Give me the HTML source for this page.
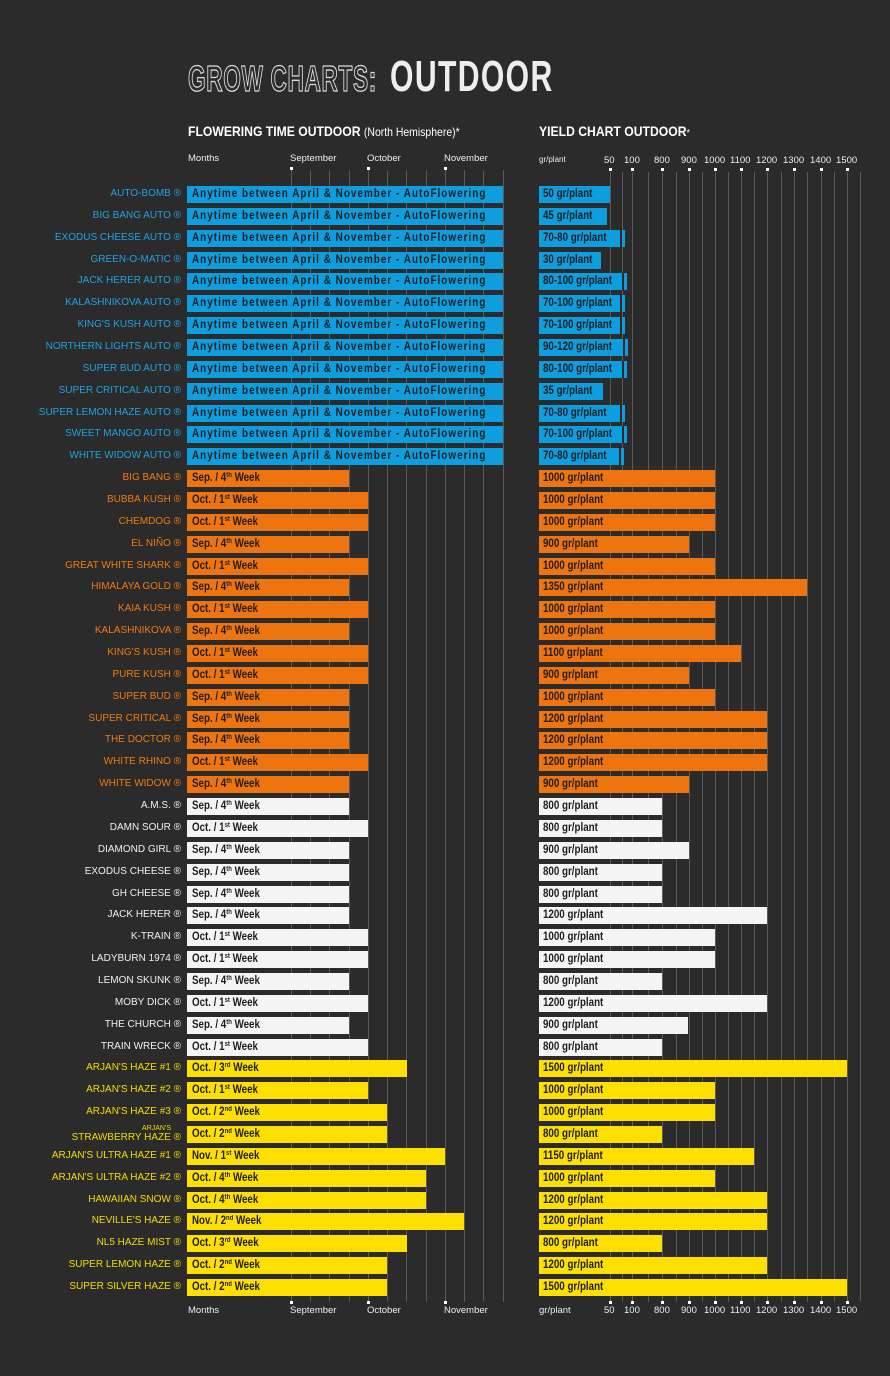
<!DOCTYPE html>
<html><head><meta charset="utf-8">
<style>
*{margin:0;padding:0;box-sizing:border-box}
body{width:890px;height:1376px;background:#2b2b2b;position:relative;overflow:hidden;font-family:"Liberation Sans",sans-serif}
.a{position:absolute}
.vl{position:absolute;width:1px;background:#5a5a5a}
.dot{position:absolute;width:3px;height:3px;background:#fff}
.ax{position:absolute;color:#eee;font-size:9.5px;white-space:nowrap}
#rows{position:absolute;left:0;top:185px;width:890px}
.r{position:relative;height:21.86px}
.r .l{position:absolute;right:709px;top:3px;font-size:10px;white-space:nowrap;text-align:right}
.r .f,.r .y{position:absolute;top:1px;height:17px;font-weight:bold;font-size:11.5px;color:#1e1e1e;padding-left:5px;line-height:17px;white-space:nowrap;overflow:hidden}
.r .f{left:187px}
.r .y{left:539px;padding-left:4px}
.r .f span,.r .y span{display:inline-block;transform:scaleX(0.85);transform-origin:left}
sup{font-size:7px;line-height:0;vertical-align:4px}
.b .l{color:#1fa3e0}.b .f,.b .y{background:#0d9ee0}
.o .l{color:#f07a10}.o .f,.o .y{background:#ee7410}
.w .l{color:#f0f0f0}.w .f,.w .y{background:#f4f4f4}
.k .l{color:#f5dc00}.k .f,.k .y{background:#fde000}
.x{border-right:2px solid #2b2b2b;box-shadow:3px 0 0 #0d9ee0}
.b .f span{letter-spacing:1.2px;transform:scaleX(0.86)}
</style></head><body>

<div class="a" style="left:188px;top:58px;font-size:36px;font-weight:bold;color:#2b2b2b;-webkit-text-stroke:1.3px #ddd;transform:scaleX(0.63);transform-origin:left;white-space:nowrap;letter-spacing:1px">GROW CHARTS:</div>
<div class="a" style="left:390px;top:52px;font-size:44px;font-weight:bold;color:#eee;transform:scaleX(0.685);transform-origin:left;white-space:nowrap;letter-spacing:2px">OUTDOOR</div>

<div class="a" style="left:188px;top:123px;font-size:14px;font-weight:bold;color:#fff;transform:scaleX(0.87);transform-origin:left;white-space:nowrap">FLOWERING TIME OUTDOOR <span style="font-weight:normal;font-size:12px">(North Hemisphere)*</span></div>
<div class="a" style="left:539px;top:123px;font-size:14px;font-weight:bold;color:#fff;transform:scaleX(0.87);transform-origin:left;white-space:nowrap">YIELD CHART OUTDOOR<span style="font-weight:normal;font-size:10px">*</span></div>

<!-- left grid -->
<div class="vl" style="left:291px;top:170px;height:1132px"></div>
<div class="vl" style="left:310px;top:170px;height:1132px"></div>
<div class="vl" style="left:329px;top:170px;height:1132px"></div>
<div class="vl" style="left:349px;top:170px;height:1132px"></div>
<div class="vl" style="left:368px;top:170px;height:1132px"></div>
<div class="vl" style="left:387px;top:170px;height:1132px"></div>
<div class="vl" style="left:406px;top:170px;height:1132px"></div>
<div class="vl" style="left:426px;top:170px;height:1132px"></div>
<div class="vl" style="left:445px;top:170px;height:1132px"></div>
<div class="vl" style="left:464px;top:170px;height:1132px"></div>
<div class="vl" style="left:483px;top:170px;height:1132px"></div>
<div class="vl" style="left:503px;top:170px;height:1132px"></div>
<div class="dot" style="left:290px;top:167px"></div><div class="dot" style="left:367px;top:167px"></div><div class="dot" style="left:444px;top:167px"></div>
<div class="dot" style="left:290px;top:1301px"></div><div class="dot" style="left:367px;top:1301px"></div><div class="dot" style="left:444px;top:1301px"></div>
<div class="ax" style="left:188px;top:153px">Months</div>
<div class="ax" style="left:290px;top:153px">September</div>
<div class="ax" style="left:367px;top:153px">October</div>
<div class="ax" style="left:444px;top:153px">November</div>
<div class="ax" style="left:188px;top:1305px">Months</div>
<div class="ax" style="left:290px;top:1305px">September</div>
<div class="ax" style="left:367px;top:1305px">October</div>
<div class="ax" style="left:444px;top:1305px">November</div>

<!-- right grid -->
<div class="vl" style="left:610px;top:172px;height:1130px"></div>
<div class="vl" style="left:622px;top:172px;height:1130px"></div>
<div class="vl" style="left:632px;top:172px;height:1130px"></div>
<div class="vl" style="left:648px;top:172px;height:1130px"></div>
<div class="vl" style="left:662px;top:172px;height:1130px"></div>
<div class="vl" style="left:676px;top:172px;height:1130px"></div>
<div class="vl" style="left:689px;top:172px;height:1130px"></div>
<div class="vl" style="left:702px;top:172px;height:1130px"></div>
<div class="vl" style="left:715px;top:172px;height:1130px"></div>
<div class="vl" style="left:728px;top:172px;height:1130px"></div>
<div class="vl" style="left:741px;top:172px;height:1130px"></div>
<div class="vl" style="left:754px;top:172px;height:1130px"></div>
<div class="vl" style="left:767px;top:172px;height:1130px"></div>
<div class="vl" style="left:781px;top:172px;height:1130px"></div>
<div class="vl" style="left:794px;top:172px;height:1130px"></div>
<div class="vl" style="left:807px;top:172px;height:1130px"></div>
<div class="vl" style="left:821px;top:172px;height:1130px"></div>
<div class="vl" style="left:834px;top:172px;height:1130px"></div>
<div class="vl" style="left:847px;top:172px;height:1130px"></div>
<div class="vl" style="left:860px;top:172px;height:1130px"></div>
<div class="dot" style="left:609px;top:168px"></div><div class="dot" style="left:631px;top:168px"></div><div class="dot" style="left:661px;top:168px"></div><div class="dot" style="left:688px;top:168px"></div><div class="dot" style="left:714px;top:168px"></div><div class="dot" style="left:740px;top:168px"></div><div class="dot" style="left:766px;top:168px"></div><div class="dot" style="left:793px;top:168px"></div><div class="dot" style="left:820px;top:168px"></div><div class="dot" style="left:846px;top:168px"></div>
<div class="dot" style="left:609px;top:1301px"></div><div class="dot" style="left:631px;top:1301px"></div><div class="dot" style="left:661px;top:1301px"></div><div class="dot" style="left:688px;top:1301px"></div><div class="dot" style="left:714px;top:1301px"></div><div class="dot" style="left:740px;top:1301px"></div><div class="dot" style="left:766px;top:1301px"></div><div class="dot" style="left:793px;top:1301px"></div><div class="dot" style="left:820px;top:1301px"></div><div class="dot" style="left:846px;top:1301px"></div>
<div class="ax" style="left:539px;top:155px;font-size:8px">gr/plant</div>
<div class="ax" style="left:604px;top:155px">50</div><div class="ax" style="left:624px;top:155px">100</div><div class="ax" style="left:654px;top:155px">800</div><div class="ax" style="left:681px;top:155px">900</div><div class="ax" style="left:704px;top:155px">1000</div><div class="ax" style="left:730px;top:155px">1100</div><div class="ax" style="left:756px;top:155px">1200</div><div class="ax" style="left:783px;top:155px">1300</div><div class="ax" style="left:810px;top:155px">1400</div><div class="ax" style="left:836px;top:155px">1500</div>
<div class="ax" style="left:539px;top:1305px">gr/plant</div>
<div class="ax" style="left:604px;top:1305px">50</div><div class="ax" style="left:624px;top:1305px">100</div><div class="ax" style="left:654px;top:1305px">800</div><div class="ax" style="left:681px;top:1305px">900</div><div class="ax" style="left:704px;top:1305px">1000</div><div class="ax" style="left:730px;top:1305px">1100</div><div class="ax" style="left:756px;top:1305px">1200</div><div class="ax" style="left:783px;top:1305px">1300</div><div class="ax" style="left:810px;top:1305px">1400</div><div class="ax" style="left:836px;top:1305px">1500</div>

<div id="rows">
<div class="r b"><div class="l">AUTO-BOMB ®</div><div class="f" style="width:316px"><span>Anytime between April &amp; November - AutoFlowering</span></div><div class="y" style="width:71px"><span>50 gr/plant</span></div></div>
<div class="r b"><div class="l">BIG BANG AUTO ®</div><div class="f" style="width:316px"><span>Anytime between April &amp; November - AutoFlowering</span></div><div class="y" style="width:68px"><span>45 gr/plant</span></div></div>
<div class="r b"><div class="l">EXODUS CHEESE AUTO ®</div><div class="f" style="width:316px"><span>Anytime between April &amp; November - AutoFlowering</span></div><div class="y x" style="width:83px"><span>70-80 gr/plant</span></div></div>
<div class="r b"><div class="l">GREEN-O-MATIC ®</div><div class="f" style="width:316px"><span>Anytime between April &amp; November - AutoFlowering</span></div><div class="y" style="width:62px"><span>30 gr/plant</span></div></div>
<div class="r b"><div class="l">JACK HERER AUTO ®</div><div class="f" style="width:316px"><span>Anytime between April &amp; November - AutoFlowering</span></div><div class="y x" style="width:85px"><span>80-100 gr/plant</span></div></div>
<div class="r b"><div class="l">KALASHNIKOVA AUTO ®</div><div class="f" style="width:316px"><span>Anytime between April &amp; November - AutoFlowering</span></div><div class="y x" style="width:83px"><span>70-100 gr/plant</span></div></div>
<div class="r b"><div class="l">KING'S KUSH AUTO ®</div><div class="f" style="width:316px"><span>Anytime between April &amp; November - AutoFlowering</span></div><div class="y x" style="width:83px"><span>70-100 gr/plant</span></div></div>
<div class="r b"><div class="l">NORTHERN LIGHTS AUTO ®</div><div class="f" style="width:316px"><span>Anytime between April &amp; November - AutoFlowering</span></div><div class="y x" style="width:86px"><span>90-120 gr/plant</span></div></div>
<div class="r b"><div class="l">SUPER BUD AUTO ®</div><div class="f" style="width:316px"><span>Anytime between April &amp; November - AutoFlowering</span></div><div class="y x" style="width:85px"><span>80-100 gr/plant</span></div></div>
<div class="r b"><div class="l">SUPER CRITICAL AUTO ®</div><div class="f" style="width:316px"><span>Anytime between April &amp; November - AutoFlowering</span></div><div class="y" style="width:64px"><span>35 gr/plant</span></div></div>
<div class="r b"><div class="l">SUPER LEMON HAZE AUTO ®</div><div class="f" style="width:316px"><span>Anytime between April &amp; November - AutoFlowering</span></div><div class="y x" style="width:83px"><span>70-80 gr/plant</span></div></div>
<div class="r b"><div class="l">SWEET MANGO AUTO ®</div><div class="f" style="width:316px"><span>Anytime between April &amp; November - AutoFlowering</span></div><div class="y x" style="width:85px"><span>70-100 gr/plant</span></div></div>
<div class="r b"><div class="l">WHITE WIDOW AUTO ®</div><div class="f" style="width:316px"><span>Anytime between April &amp; November - AutoFlowering</span></div><div class="y x" style="width:82px"><span>70-80 gr/plant</span></div></div>

<div class="r o"><div class="l">BIG BANG ®</div><div class="f" style="width:162px"><span>Sep. / 4<sup>th</sup> Week</span></div><div class="y" style="width:176px"><span>1000 gr/plant</span></div></div>
<div class="r o"><div class="l">BUBBA KUSH ®</div><div class="f" style="width:181px"><span>Oct. / 1<sup>st</sup> Week</span></div><div class="y" style="width:176px"><span>1000 gr/plant</span></div></div>
<div class="r o"><div class="l">CHEMDOG ®</div><div class="f" style="width:181px"><span>Oct. / 1<sup>st</sup> Week</span></div><div class="y" style="width:176px"><span>1000 gr/plant</span></div></div>
<div class="r o"><div class="l">EL NIÑO ®</div><div class="f" style="width:162px"><span>Sep. / 4<sup>th</sup> Week</span></div><div class="y" style="width:150px"><span>900 gr/plant</span></div></div>
<div class="r o"><div class="l">GREAT WHITE SHARK ®</div><div class="f" style="width:181px"><span>Oct. / 1<sup>st</sup> Week</span></div><div class="y" style="width:176px"><span>1000 gr/plant</span></div></div>
<div class="r o"><div class="l">HIMALAYA GOLD ®</div><div class="f" style="width:162px"><span>Sep. / 4<sup>th</sup> Week</span></div><div class="y" style="width:268px"><span>1350 gr/plant</span></div></div>
<div class="r o"><div class="l">KAIA KUSH ®</div><div class="f" style="width:181px"><span>Oct. / 1<sup>st</sup> Week</span></div><div class="y" style="width:176px"><span>1000 gr/plant</span></div></div>
<div class="r o"><div class="l">KALASHNIKOVA ®</div><div class="f" style="width:162px"><span>Sep. / 4<sup>th</sup> Week</span></div><div class="y" style="width:176px"><span>1000 gr/plant</span></div></div>
<div class="r o"><div class="l">KING'S KUSH ®</div><div class="f" style="width:181px"><span>Oct. / 1<sup>st</sup> Week</span></div><div class="y" style="width:202px"><span>1100 gr/plant</span></div></div>
<div class="r o"><div class="l">PURE KUSH ®</div><div class="f" style="width:181px"><span>Oct. / 1<sup>st</sup> Week</span></div><div class="y" style="width:150px"><span>900 gr/plant</span></div></div>
<div class="r o"><div class="l">SUPER BUD ®</div><div class="f" style="width:162px"><span>Sep. / 4<sup>th</sup> Week</span></div><div class="y" style="width:176px"><span>1000 gr/plant</span></div></div>
<div class="r o"><div class="l">SUPER CRITICAL ®</div><div class="f" style="width:162px"><span>Sep. / 4<sup>th</sup> Week</span></div><div class="y" style="width:228px"><span>1200 gr/plant</span></div></div>
<div class="r o"><div class="l">THE DOCTOR ®</div><div class="f" style="width:162px"><span>Sep. / 4<sup>th</sup> Week</span></div><div class="y" style="width:228px"><span>1200 gr/plant</span></div></div>
<div class="r o"><div class="l">WHITE RHINO ®</div><div class="f" style="width:181px"><span>Oct. / 1<sup>st</sup> Week</span></div><div class="y" style="width:228px"><span>1200 gr/plant</span></div></div>
<div class="r o"><div class="l">WHITE WIDOW ®</div><div class="f" style="width:162px"><span>Sep. / 4<sup>th</sup> Week</span></div><div class="y" style="width:150px"><span>900 gr/plant</span></div></div>

<div class="r w"><div class="l">A.M.S. ®</div><div class="f" style="width:162px"><span>Sep. / 4<sup>th</sup> Week</span></div><div class="y" style="width:123px"><span>800 gr/plant</span></div></div>
<div class="r w"><div class="l">DAMN SOUR ®</div><div class="f" style="width:181px"><span>Oct. / 1<sup>st</sup> Week</span></div><div class="y" style="width:123px"><span>800 gr/plant</span></div></div>
<div class="r w"><div class="l">DIAMOND GIRL ®</div><div class="f" style="width:162px"><span>Sep. / 4<sup>th</sup> Week</span></div><div class="y" style="width:150px"><span>900 gr/plant</span></div></div>
<div class="r w"><div class="l">EXODUS CHEESE ®</div><div class="f" style="width:162px"><span>Sep. / 4<sup>th</sup> Week</span></div><div class="y" style="width:123px"><span>800 gr/plant</span></div></div>
<div class="r w"><div class="l">GH CHEESE ®</div><div class="f" style="width:162px"><span>Sep. / 4<sup>th</sup> Week</span></div><div class="y" style="width:123px"><span>800 gr/plant</span></div></div>
<div class="r w"><div class="l">JACK HERER ®</div><div class="f" style="width:162px"><span>Sep. / 4<sup>th</sup> Week</span></div><div class="y" style="width:228px"><span>1200 gr/plant</span></div></div>
<div class="r w"><div class="l">K-TRAIN ®</div><div class="f" style="width:181px"><span>Oct. / 1<sup>st</sup> Week</span></div><div class="y" style="width:176px"><span>1000 gr/plant</span></div></div>
<div class="r w"><div class="l">LADYBURN 1974 ®</div><div class="f" style="width:181px"><span>Oct. / 1<sup>st</sup> Week</span></div><div class="y" style="width:176px"><span>1000 gr/plant</span></div></div>
<div class="r w"><div class="l">LEMON SKUNK ®</div><div class="f" style="width:162px"><span>Sep. / 4<sup>th</sup> Week</span></div><div class="y" style="width:123px"><span>800 gr/plant</span></div></div>
<div class="r w"><div class="l">MOBY DICK ®</div><div class="f" style="width:181px"><span>Oct. / 1<sup>st</sup> Week</span></div><div class="y" style="width:228px"><span>1200 gr/plant</span></div></div>
<div class="r w"><div class="l">THE CHURCH ®</div><div class="f" style="width:162px"><span>Sep. / 4<sup>th</sup> Week</span></div><div class="y" style="width:149px"><span>900 gr/plant</span></div></div>
<div class="r w"><div class="l">TRAIN WRECK ®</div><div class="f" style="width:181px"><span>Oct. / 1<sup>st</sup> Week</span></div><div class="y" style="width:123px"><span>800 gr/plant</span></div></div>

<div class="r k"><div class="l">ARJAN'S HAZE #1 ®</div><div class="f" style="width:220px"><span>Oct. / 3<sup>rd</sup> Week</span></div><div class="y" style="width:308px"><span>1500 gr/plant</span></div></div>
<div class="r k"><div class="l">ARJAN'S HAZE #2 ®</div><div class="f" style="width:181px"><span>Oct. / 1<sup>st</sup> Week</span></div><div class="y" style="width:176px"><span>1000 gr/plant</span></div></div>
<div class="r k"><div class="l">ARJAN'S HAZE #3 ®</div><div class="f" style="width:200px"><span>Oct. / 2<sup>nd</sup> Week</span></div><div class="y" style="width:176px"><span>1000 gr/plant</span></div></div>
<div class="r k"><div class="l" style="top:-2px;line-height:9px"><span style="font-size:7px;margin-right:10px">ARJAN'S</span><br>STRAWBERRY HAZE ®</div><div class="f" style="width:200px"><span>Oct. / 2<sup>nd</sup> Week</span></div><div class="y" style="width:123px"><span>800 gr/plant</span></div></div>
<div class="r k"><div class="l">ARJAN'S ULTRA HAZE #1 ®</div><div class="f" style="width:258px"><span>Nov. / 1<sup>st</sup> Week</span></div><div class="y" style="width:215px"><span>1150 gr/plant</span></div></div>
<div class="r k"><div class="l">ARJAN'S ULTRA HAZE #2 ®</div><div class="f" style="width:239px"><span>Oct. / 4<sup>th</sup> Week</span></div><div class="y" style="width:176px"><span>1000 gr/plant</span></div></div>
<div class="r k"><div class="l">HAWAIIAN SNOW ®</div><div class="f" style="width:239px"><span>Oct. / 4<sup>th</sup> Week</span></div><div class="y" style="width:228px"><span>1200 gr/plant</span></div></div>
<div class="r k"><div class="l">NEVILLE'S HAZE ®</div><div class="f" style="width:277px"><span>Nov. / 2<sup>nd</sup> Week</span></div><div class="y" style="width:228px"><span>1200 gr/plant</span></div></div>
<div class="r k"><div class="l">NL5 HAZE MIST ®</div><div class="f" style="width:220px"><span>Oct. / 3<sup>rd</sup> Week</span></div><div class="y" style="width:123px"><span>800 gr/plant</span></div></div>
<div class="r k"><div class="l">SUPER LEMON HAZE ®</div><div class="f" style="width:200px"><span>Oct. / 2<sup>nd</sup> Week</span></div><div class="y" style="width:228px"><span>1200 gr/plant</span></div></div>
<div class="r k"><div class="l">SUPER SILVER HAZE ®</div><div class="f" style="width:200px"><span>Oct. / 2<sup>nd</sup> Week</span></div><div class="y" style="width:308px"><span>1500 gr/plant</span></div></div>
</div>
</body></html>
